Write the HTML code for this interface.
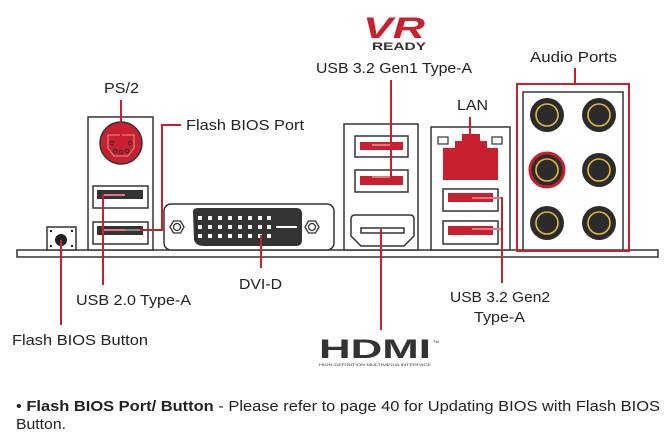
<!DOCTYPE html>
<html><head><meta charset="utf-8"><style>
html,body{margin:0;padding:0;background:#fff;}
svg{display:block;}
text{font-family:"Liberation Sans",sans-serif;fill:#222;}
</style></head><body>
<svg width="672" height="444" viewBox="0 0 672 444" xmlns="http://www.w3.org/2000/svg">
<g fill="none" stroke="#333" stroke-width="1.5">
<!-- baseplate -->
<rect x="17" y="250" width="641" height="7" fill="#fff"/>
<!-- flash button -->
<rect x="47" y="227" width="29" height="23" fill="#fff"/>
<!-- PS2 block -->
<rect x="88" y="117" width="65" height="133" fill="#fff"/>
<rect x="93" y="186" width="55" height="22" fill="#fff"/>
<rect x="93" y="222" width="55" height="22" fill="#fff"/>
<!-- DVI -->
<rect x="164" y="204" width="170" height="46" rx="7" fill="#fff"/>
<!-- gen1 block -->
<rect x="344" y="124" width="74" height="126" fill="#fff"/>
<rect x="355" y="136" width="53" height="21" fill="#fff"/>
<rect x="355" y="170" width="53" height="22" fill="#fff"/>
<path d="M351 219 Q351 215 355 215 L410 215 Q414 215 414 219 L414 236 L404 246 L361 246 L351 236 Z" fill="#fff"/>
<!-- LAN block -->
<rect x="431" y="127" width="79" height="123" fill="#fff"/>
<rect x="443" y="189" width="55" height="22" fill="#fff"/>
<rect x="443" y="221" width="55" height="23" fill="#fff"/>
<rect x="523" y="92" width="100" height="158" fill="#fff"/>
</g>
<!-- flash button details -->
<circle cx="61" cy="240" r="6" fill="#222"/>
<g fill="#222"><rect x="50" y="230" width="2" height="2"/><rect x="71" y="230" width="2" height="2"/><rect x="50" y="245" width="2" height="2"/><rect x="71" y="245" width="2" height="2"/></g>
<!-- PS2 -->
<circle cx="121" cy="143" r="21" fill="#c8202e" stroke="#333" stroke-width="1.5"/>
<path d="M108 135 L108 148 L114 156 L128 156 L134 148 L134 135 Z" fill="none" stroke="#fff" stroke-width="1" opacity="0.5"/>
<g fill="none" stroke="#333" stroke-width="1"><circle cx="112" cy="143" r="1.8"/><circle cx="130" cy="143" r="1.8"/><circle cx="115" cy="151" r="1.8"/><circle cx="127" cy="151" r="1.8"/><circle cx="121" cy="152" r="1.8"/></g>
<!-- USB2 inner -->
<rect x="97" y="190" width="46" height="9" fill="#333"/>
<rect x="97" y="226" width="46" height="9" fill="#333"/>
<!-- DVI inner -->
<path d="M193 212 Q193 208 198 208 L296 208 Q302 208 302 214 L302 240 Q302 246 296 246 L204 246 Q196 246 194 240 Z" fill="#333"/>
<g fill="#fff">
<rect x="198" y="216" width="4" height="4"/><rect x="208" y="216" width="4" height="4"/><rect x="218" y="216" width="4" height="4"/><rect x="228" y="216" width="4" height="4"/><rect x="238" y="216" width="4" height="4"/><rect x="248" y="216" width="4" height="4"/><rect x="258" y="216" width="4" height="4"/><rect x="267" y="216" width="4" height="4"/>
<rect x="198" y="225" width="4" height="4"/><rect x="208" y="225" width="4" height="4"/><rect x="218" y="225" width="4" height="4"/><rect x="228" y="225" width="4" height="4"/><rect x="238" y="225" width="4" height="4"/><rect x="248" y="225" width="4" height="4"/><rect x="258" y="225" width="4" height="4"/><rect x="267" y="225" width="4" height="4"/>
<rect x="198" y="234" width="4" height="4"/><rect x="208" y="234" width="4" height="4"/><rect x="218" y="234" width="4" height="4"/><rect x="228" y="234" width="4" height="4"/><rect x="238" y="234" width="4" height="4"/><rect x="248" y="234" width="4" height="4"/><rect x="258" y="234" width="4" height="4"/><rect x="267" y="234" width="4" height="4"/>
<rect x="276" y="226" width="21" height="2"/>
</g>
<g fill="#fff" stroke="#333" stroke-width="1.3">
<polygon points="170,227 173.5,221 180.5,221 184,227 180.5,233 173.5,233"/>
<circle cx="177" cy="227" r="3.5"/>
<polygon points="305,227 308.5,221 315.5,221 319,227 315.5,233 308.5,233"/>
<circle cx="312" cy="227" r="3.5"/>
</g>
<!-- gen1 ports -->
<rect x="360" y="142" width="43" height="8" fill="#c8202e"/>
<rect x="360" y="176" width="43" height="9" fill="#c8202e"/>
<rect x="361" y="228" width="43" height="5" fill="none" stroke="#333" stroke-width="1.5"/>
<!-- LAN -->
<path d="M443 148 L455 148 L455 141 L462 141 L462 134 L480 134 L480 141 L487 141 L487 148 L498 148 L498 180 L443 180 Z" fill="#c8202e"/>
<rect x="438" y="137" width="10" height="7" fill="#fff" stroke="#333" stroke-width="1.2"/>
<rect x="492" y="137" width="10" height="7" fill="#fff" stroke="#333" stroke-width="1.2"/>
<rect x="448" y="193" width="45" height="9" fill="#c8202e"/>
<rect x="448" y="226" width="45" height="9" fill="#c8202e"/>
<!-- audio -->
<rect x="517" y="84" width="112" height="167" fill="none" stroke="#c8202e" stroke-width="2"/>
<g stroke-width="1.6" stroke="#e6b83a" fill="#2b2b2b">
<circle cx="547" cy="115" r="17" stroke="none"/><circle cx="547" cy="115" r="11" fill="none"/>
<circle cx="599" cy="115" r="17" stroke="none"/><circle cx="599" cy="115" r="11" fill="none"/>
<circle cx="547" cy="170" r="17" stroke="#c8202e" stroke-width="3"/><circle cx="547" cy="170" r="11" fill="none"/>
<circle cx="599" cy="170" r="17" stroke="none"/><circle cx="599" cy="170" r="11" fill="none"/>
<circle cx="547" cy="223" r="17" stroke="none"/><circle cx="547" cy="223" r="11" fill="none"/>
<circle cx="599" cy="223" r="17" stroke="none"/><circle cx="599" cy="223" r="11" fill="none"/>
</g>
<!-- leader lines -->
<g fill="none" stroke="#c8202e" stroke-width="2">
<path d="M121 100 V143"/>
<path d="M181 125 H162 V230 H140"/>
<path d="M125 195 H103 V285 M103 230 H125"/>
<path d="M61 240 V325"/>
<path d="M261 235 V268"/>
<path d="M372 145 H391 V80 M391 145 V177 H372"/>
<path d="M381 229 V330"/>
<path d="M470 117 V153"/>
<path d="M472 198 H502 V283 M502 229 H472"/>
<path d="M575 68 V84"/>
</g>
<g stroke="#fff" stroke-width="1" fill="none" opacity="0.8">
<path d="M104 195 H125 M104 230 H140 M372 145 H390 M372 177 H390 M472 198 H501 M472 229 H501"/>
</g>
<!-- VR ready logo -->
<text x="394" y="38" text-anchor="middle" font-size="30" font-weight="bold" font-style="italic" style="fill:#c8202e" textLength="62" lengthAdjust="spacingAndGlyphs">VR</text>
<text x="399" y="50" text-anchor="middle" font-size="11" font-weight="bold" style="fill:#333" textLength="54" lengthAdjust="spacingAndGlyphs">READY</text>
<!-- labels -->
<g font-size="15">
<text x="104" y="93" textLength="35" lengthAdjust="spacingAndGlyphs">PS/2</text>
<text x="186" y="130" textLength="118" lengthAdjust="spacingAndGlyphs">Flash BIOS Port</text>
<text x="316" y="73" textLength="156" lengthAdjust="spacingAndGlyphs">USB 3.2 Gen1 Type-A</text>
<text x="457" y="110" textLength="31" lengthAdjust="spacingAndGlyphs">LAN</text>
<text x="530" y="62" textLength="87" lengthAdjust="spacingAndGlyphs">Audio Ports</text>
<text x="239" y="289" textLength="43" lengthAdjust="spacingAndGlyphs">DVI-D</text>
<text x="76" y="305" textLength="115" lengthAdjust="spacingAndGlyphs">USB 2.0 Type-A</text>
<text x="12" y="345" textLength="136" lengthAdjust="spacingAndGlyphs">Flash BIOS Button</text>
<text x="450" y="302" textLength="100" lengthAdjust="spacingAndGlyphs">USB 3.2 Gen2</text>
<text x="474" y="322" textLength="51" lengthAdjust="spacingAndGlyphs">Type-A</text>
<text x="16" y="411" textLength="644" lengthAdjust="spacingAndGlyphs">• <tspan font-weight="bold">Flash BIOS Port/ Button</tspan> - Please refer to page 40 for Updating BIOS with Flash BIOS</text>
<text x="16" y="429" textLength="50" lengthAdjust="spacingAndGlyphs">Button.</text>
</g>
<!-- HDMI logo -->
<text x="319" y="358" font-size="27" font-weight="bold" style="fill:#333" textLength="112" lengthAdjust="spacingAndGlyphs">HDMI</text>
<text x="433" y="343" font-size="4" style="fill:#333">TM</text>
<text x="319" y="366" font-size="4" style="fill:#333" textLength="112" lengthAdjust="spacingAndGlyphs">HIGH-DEFINITION MULTIMEDIA INTERFACE</text>
</svg>
</body></html>
